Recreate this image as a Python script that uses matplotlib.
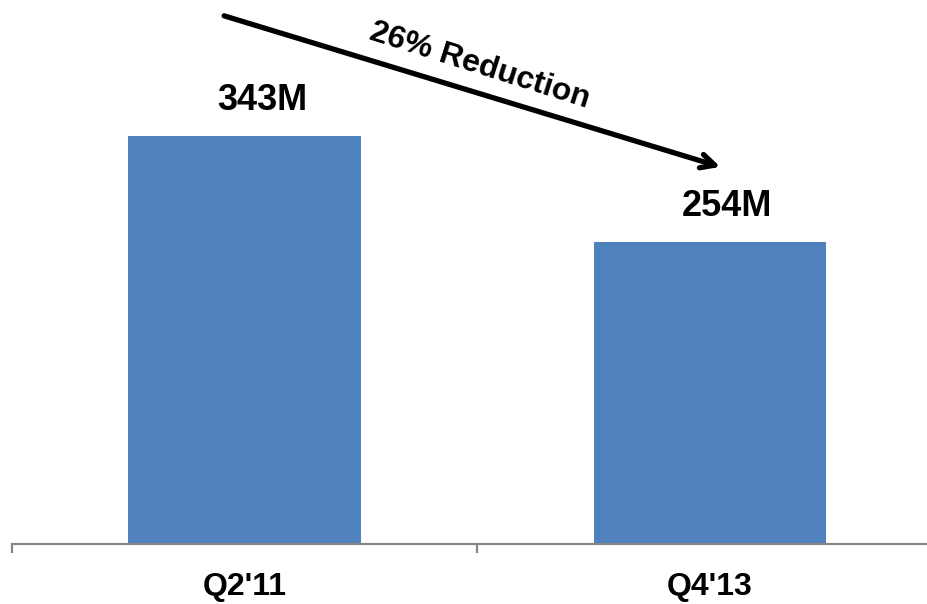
import matplotlib
matplotlib.use('Agg')
import matplotlib.pyplot as plt

# chart data
periods = ["Q2'11", "Q4'13"]
users_m = [343, 254]
value_labels = ["343M", "254M"]
change_label = "26% Reduction"

BAR_COLOR = '#4F81BD'
AXIS_COLOR = '#868686'

plt.rcParams['font.family'] = ['Liberation Sans', 'DejaVu Sans']
plt.rcParams['font.weight'] = 'bold'

fig = plt.figure(figsize=(9.28, 6.04), dpi=100)
# axes runs past the right edge, like the original slide crop
ax = fig.add_axes([12 / 928, 60 / 604, 930.5 / 928, 544 / 604])

x = list(range(len(periods)))
bars = ax.bar(x, users_m, width=0.5, color=BAR_COLOR, zorder=2)

ax.set_xlim(-0.5, len(periods) - 0.5)
ax.set_ylim(0, 457)

# value labels above the bars
for rect, lab in zip(bars, value_labels):
    ax.annotate(lab, (rect.get_x() + rect.get_width() / 2, rect.get_height()),
                xytext=(12.5, 12.5), textcoords='offset points',
                ha='center', va='bottom', fontsize=26, fontweight='bold')

# spines / ticks
for side in ['left', 'top', 'right']:
    ax.spines[side].set_visible(False)
ax.spines['bottom'].set_color(AXIS_COLOR)
ax.spines['bottom'].set_linewidth(1.6)
ax.set_yticks([])

ax.set_xticks(x)
ax.set_xticklabels(periods, fontsize=23, fontweight='bold')
ax.tick_params(axis='x', which='major', length=0, pad=20)
ax.set_xticks([i - 0.5 for i in range(len(periods) + 1)], minor=True)
ax.tick_params(axis='x', which='minor', length=6.5, width=1.6,
               color=AXIS_COLOR, direction='out')

# trend arrow with label
ax.annotate('', xy=(1.0226, 316.8), xytext=(-0.044, 443.7),
            arrowprops=dict(arrowstyle='->,head_length=1.0,head_width=0.5',
                            color='black', lw=3.8, shrinkA=0, shrinkB=0))
ax.text(0.506, 401.5, change_label, rotation=-17.5, rotation_mode='anchor',
        ha='center', va='center', fontsize=23, fontweight='bold')

fig.savefig('out.png', dpi=100)
